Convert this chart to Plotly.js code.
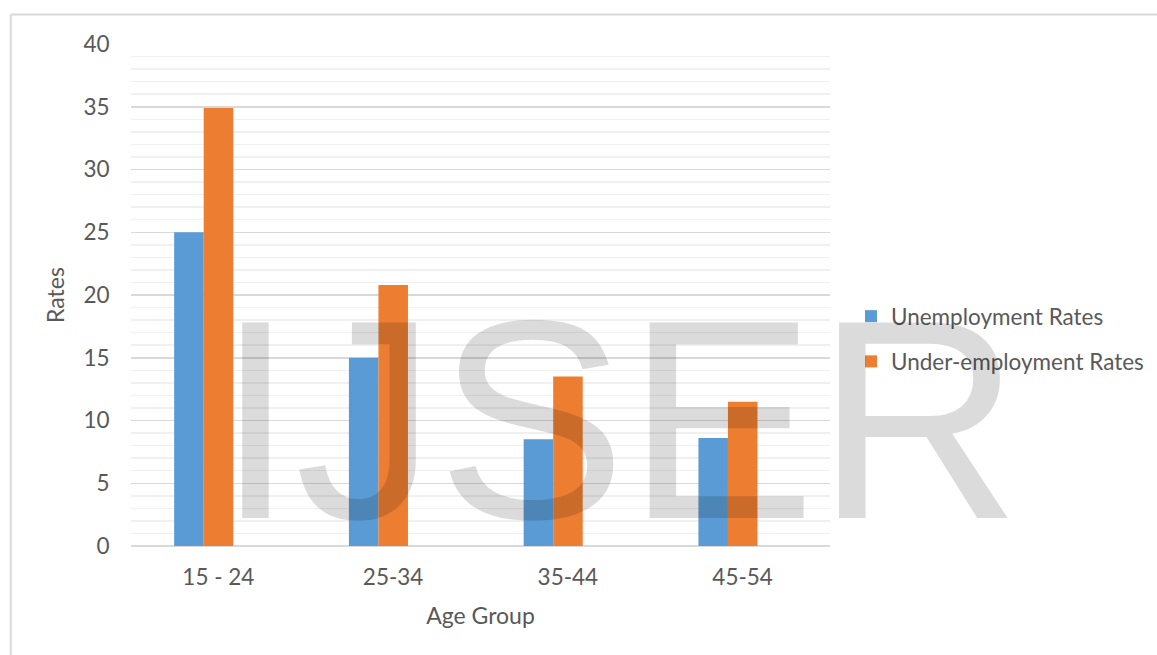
<!DOCTYPE html>
<html>
<head>
<meta charset="utf-8">
<script src="https://cdn.plot.ly/plotly-3.0.1.min.js"></script>
<style>html,body{margin:0;padding:0;background:#fff;}#chart{width:1157px;height:655px;}</style>
</head>
<body>
<div id="chart"></div>
<script>
const categories = ['15 - 24', '25-34', '35-44', '45-54'];
const unemployment = [25, 15, 8.5, 8.6];
const underemployment = [34.9, 20.8, 13.5, 11.5];
const seriesNames = ['Unemployment Rates', 'Under-employment Rates'];
const yTicks = [0, 5, 10, 15, 20, 25, 30, 35, 40];

const FONT = 'Lato, "Open Sans", sans-serif';
const GREY = '#595959';

const traces = [
  {type: 'bar', x: categories, y: unemployment, name: seriesNames[0],
   marker: {color: '#5B9BD5'}, width: 0.169, offset: -0.253, legendgroup: 'a',
   hoverinfo: 'x+y'},
  {type: 'bar', x: categories, y: underemployment, name: seriesNames[1],
   marker: {color: '#ED7D31'}, width: 0.169, offset: -0.084, legendgroup: 'b',
   hoverinfo: 'x+y'}
];

const layout = {
  width: 1157, height: 655,
  paper_bgcolor: '#ffffff', plot_bgcolor: '#ffffff',
  margin: {l: 131, r: 327, t: 44, b: 109, autoexpand: false},
  font: {family: FONT, size: 22.5, color: GREY},
  showlegend: true,
  legend: {x: 1.030, xanchor: 'left', y: 0.50, yanchor: 'top',
           font: {family: FONT, size: 22.5, color: GREY},
           tracegroupgap: 13, traceorder: 'grouped', bgcolor: 'rgba(0,0,0,0)'},
  xaxis: {
    type: 'category', showgrid: false, zeroline: false,
    showline: false, ticks: 'outside', ticklen: 11, tickcolor: 'rgba(0,0,0,0)',
    tickfont: {family: FONT, size: 22.5, color: GREY},
    title: {text: 'Age Group', font: {family: FONT, size: 23, color: GREY}, standoff: 18},
    fixedrange: true
  },
  yaxis: {
    range: [0, 40], tickvals: yTicks, ticktext: yTicks.map(String),
    showgrid: true, gridcolor: '#d9d9d9', gridwidth: 1.5,
    zeroline: true, zerolinecolor: '#d9d9d9', zerolinewidth: 2,
    showline: false, ticks: 'outside', ticklen: 16, tickcolor: 'rgba(0,0,0,0)',
    minor: {dtick: 1, showgrid: true, gridcolor: '#f0f0f0', gridwidth: 1.5, ticks: ''},
    tickfont: {family: FONT, size: 22.5, color: GREY},
    title: {text: 'Rates', font: {family: FONT, size: 23, color: GREY}, standoff: 12},
    fixedrange: true
  },
  shapes: [
    {type: 'line', xref: 'paper', yref: 'paper', x0: -0.172, x1: 1.5, y0: 1.0588, y1: 1.0588,
     line: {color: '#d9d9d9', width: 2}},
    {type: 'line', xref: 'paper', yref: 'paper', x0: -0.172, x1: -0.172, y0: 1.0588, y1: -0.3,
     line: {color: '#d9d9d9', width: 2}}
  ],
  annotations: [
    {text: 'IJSER', xref: 'paper', yref: 'paper', x: 0.698, y: 0.252,
     xanchor: 'center', yanchor: 'middle', showarrow: false,
     font: {family: '"Liberation Sans", Arial, sans-serif', size: 284, color: 'rgba(0,0,0,0.14)'}}
  ],
  bargap: 0.5
};

Plotly.newPlot('chart', traces, layout, {displayModeBar: false, staticPlot: true});
</script>
</body>
</html>
